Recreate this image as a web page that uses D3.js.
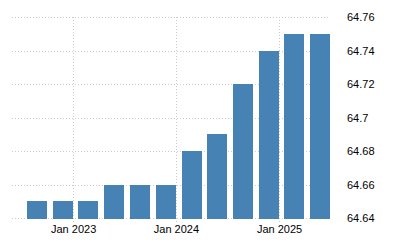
<!DOCTYPE html>
<html>
<head>
<meta charset="utf-8">
<script src="https://cdnjs.cloudflare.com/ajax/libs/d3/7.8.5/d3.min.js"></script>
<style>
  body { margin: 0; background: #fff; }
  svg { display: block; }
  .tick text { font-family: "Liberation Sans", Arial, sans-serif; font-size: 11px; fill: #000; }
</style>
</head>
<body>
<script>
// quarter end dates and values
var quarters = ["2022-09-30", "2022-12-31", "2023-03-31", "2023-06-30", "2023-09-30", "2023-12-31",
                "2024-03-31", "2024-06-30", "2024-09-30", "2024-12-31", "2025-03-31", "2025-06-30"];
var values = [64.65, 64.65, 64.65, 64.66, 64.66, 64.66, 64.68, 64.69, 64.72, 64.74, 64.75, 64.75];
var yTicks = [64.64, 64.66, 64.68, 64.7, 64.72, 64.74, 64.76];
var xTicks = ["2023-01-01", "2024-01-01", "2025-01-01"];

var parse = d3.utcParse("%Y-%m-%d");
var data = quarters.map((d, i) => ({ date: d3.utcDay.offset(parse(d), 1), value: values[i] }));

var width = 400, height = 250,
    plotLeft = 12, plotRight = 330, plotTop = 17, plotBottom = 218,
    barWidth = 20;

var svg = d3.select("body").append("svg")
    .attr("width", width).attr("height", height);

var x = d3.scaleUtc()
    .domain([parse("2022-05-29"), parse("2025-07-01")])
    .range([plotLeft, plotRight]);
var y = d3.scaleLinear().domain([64.64, 64.76]).range([plotBottom, plotTop]);

// horizontal grid
svg.append("g").selectAll("line")
    .data(yTicks).enter().append("line")
    .attr("x1", plotLeft).attr("x2", plotRight)
    .attr("y1", d => Math.round(y(d)) + 0.5).attr("y2", d => Math.round(y(d)) + 0.5)
    .attr("stroke", "#ccc").attr("stroke-dasharray", "1,2");

// vertical grid
svg.append("g").selectAll("line")
    .data(xTicks.map(parse)).enter().append("line")
    .attr("x1", d => Math.round(x(d)) + 0.5).attr("x2", d => Math.round(x(d)) + 0.5)
    .attr("y1", plotTop).attr("y2", plotBottom + 4)
    .attr("stroke", "#ccc").attr("stroke-dasharray", "1,2");

// bars
svg.append("g").selectAll("rect")
    .data(data).enter().append("rect")
    .attr("x", d => Math.round(x(d.date)) - barWidth)
    .attr("width", barWidth)
    .attr("y", d => Math.round(y(d.value)))
    .attr("height", d => Math.round(y(64.64)) + 1 - Math.round(y(d.value)))
    .attr("fill", "#4682b4");

// axes
var yAxis = d3.axisRight(y).tickValues(yTicks).tickSize(0).tickPadding(0)
    .tickFormat(d => d3.format("")(+d.toFixed(2)));
svg.append("g").attr("transform", "translate(347,0)").call(yAxis)
    .call(g => g.select(".domain").remove())
    .selectAll("text").attr("dy", "0.35em");

var xAxis = d3.axisBottom(x).tickValues(xTicks.map(parse)).tickSize(0).tickPadding(0)
    .tickFormat(d3.utcFormat("Jan %Y"));
svg.append("g").attr("transform", "translate(0,225)").call(xAxis)
    .call(g => g.select(".domain").remove());
</script>
</body>
</html>
